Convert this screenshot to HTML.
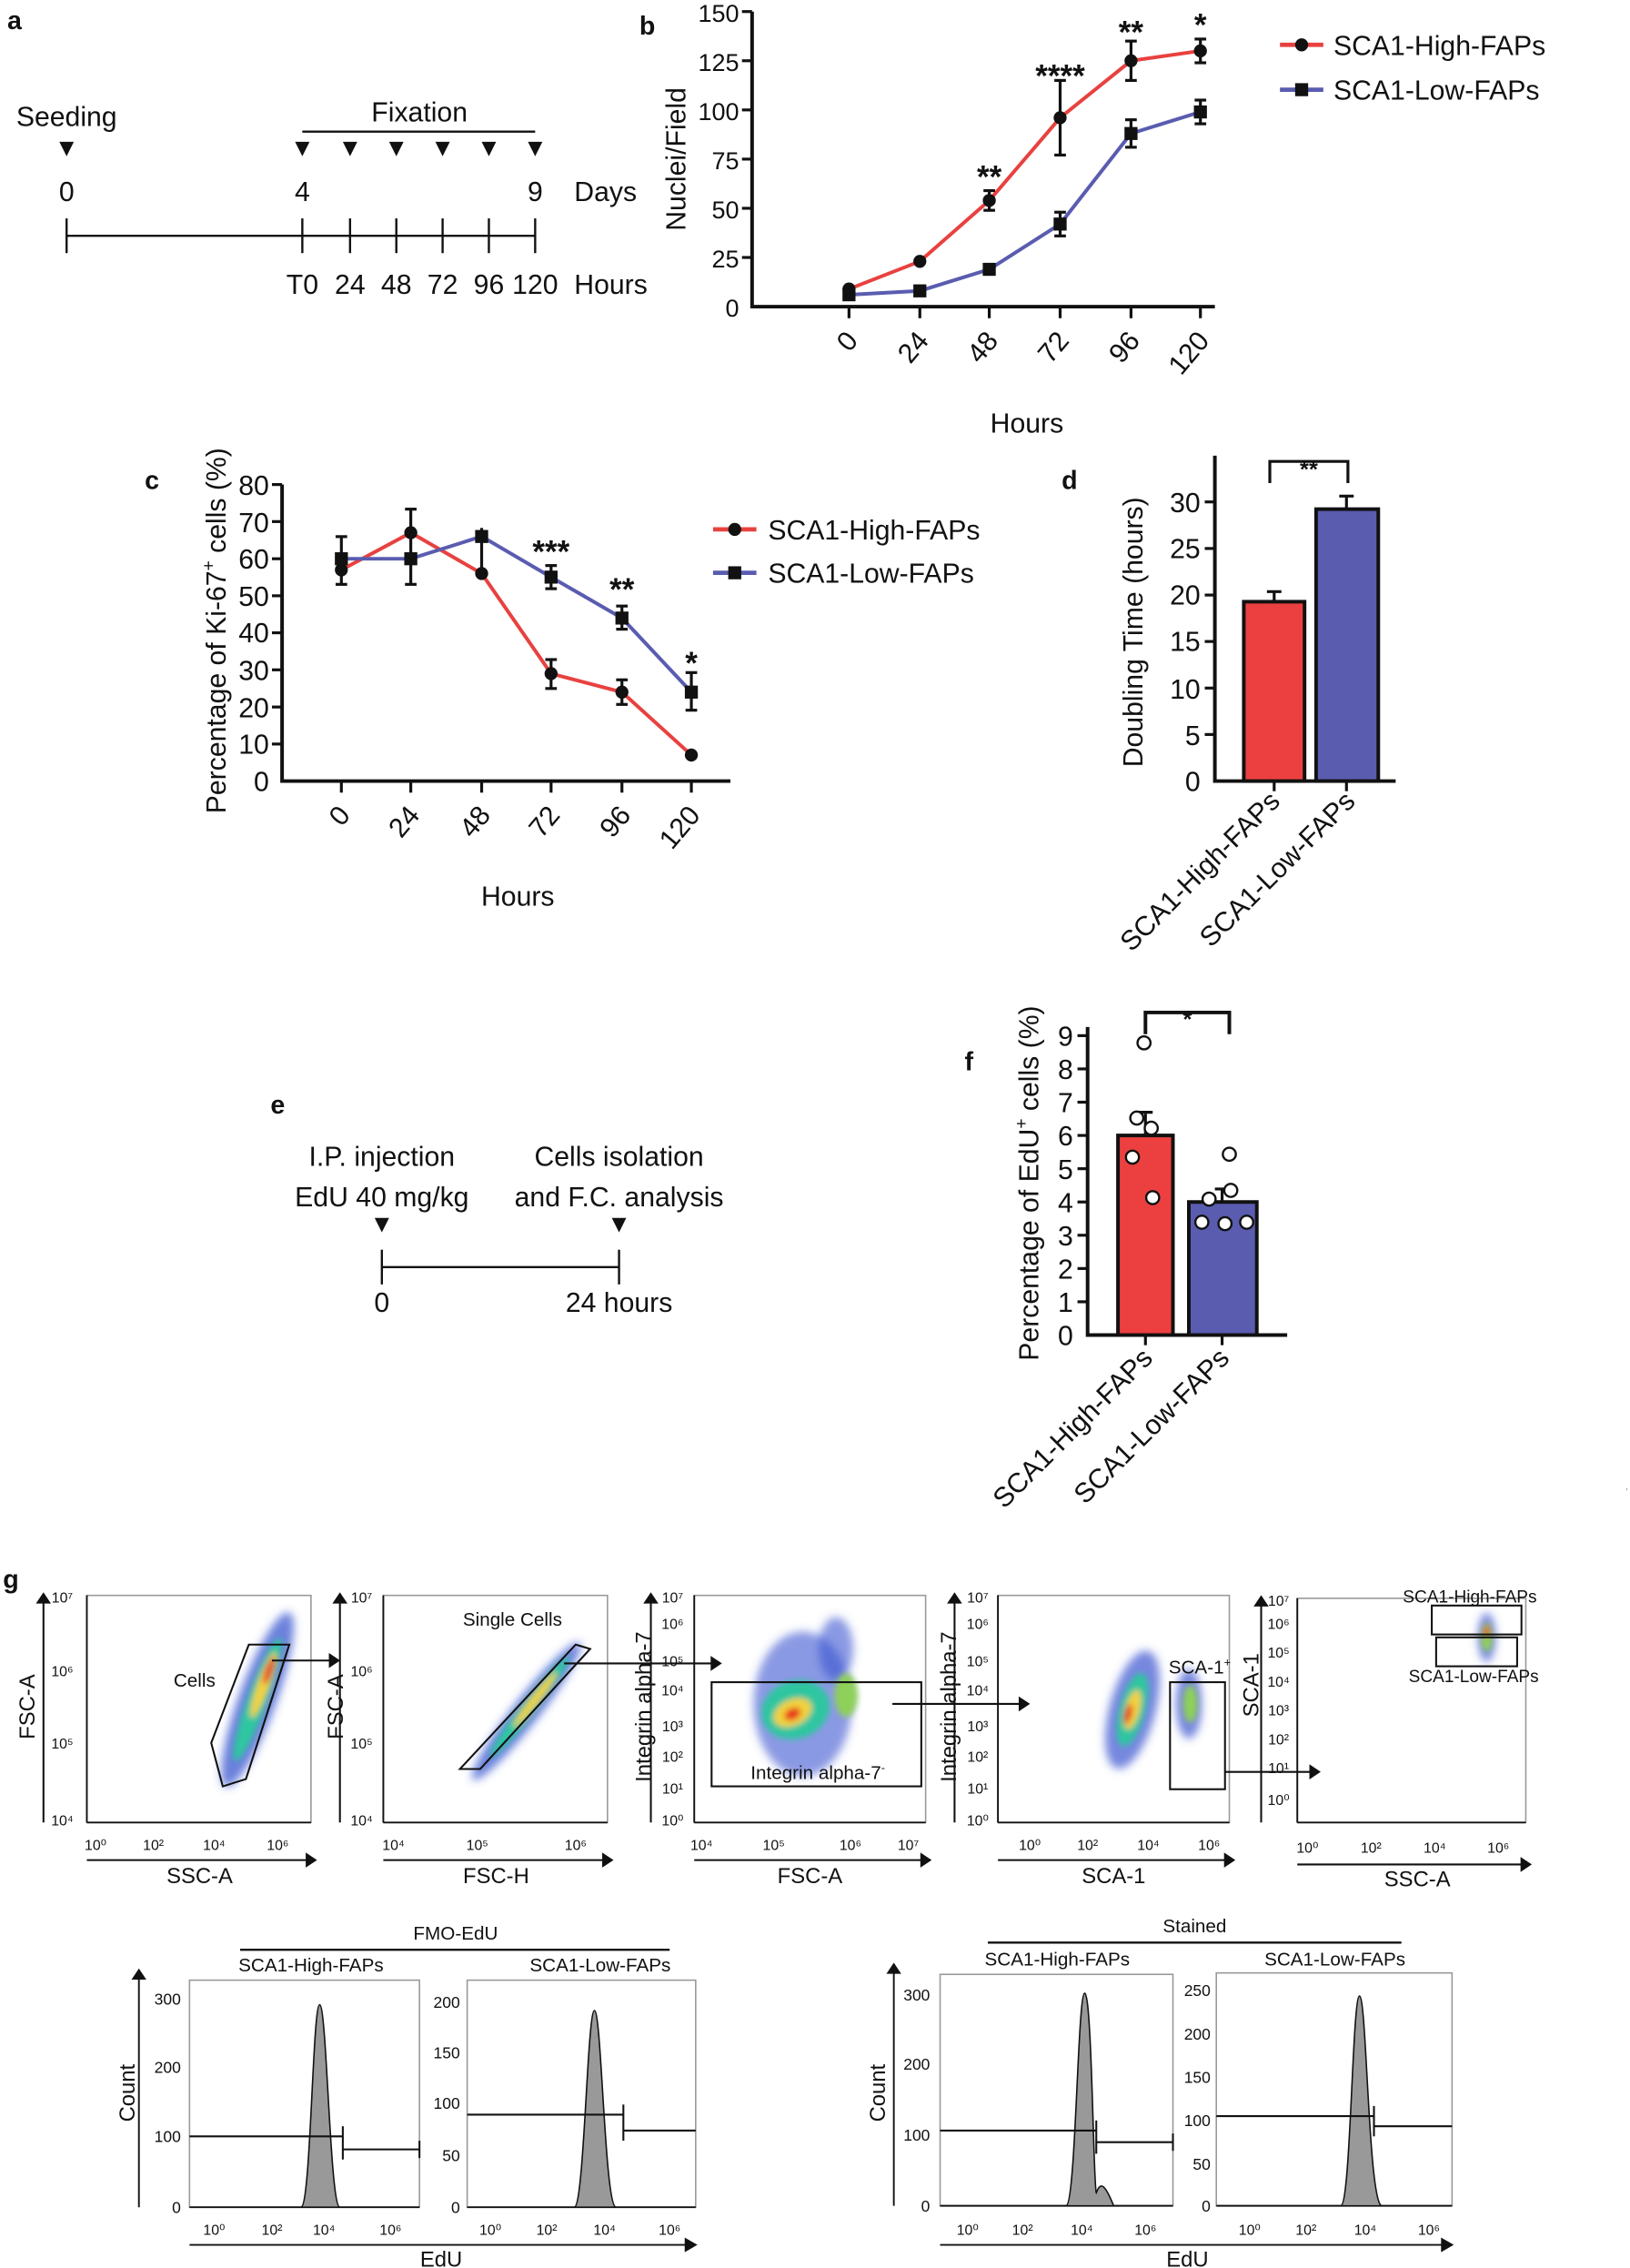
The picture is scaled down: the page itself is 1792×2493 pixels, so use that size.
<!DOCTYPE html>
<html><head><meta charset="utf-8"><style>
html,body{margin:0;padding:0;background:#fff}
svg{display:block}
text{font-family:"Liberation Sans",sans-serif;fill:#111}
</style></head><body>
<svg width="1792" height="2493" viewBox="0 0 1127 1568" xmlns="http://www.w3.org/2000/svg">
<defs>
<filter id="bl" x="-50%" y="-50%" width="200%" height="200%"><feGaussianBlur stdDeviation="3"/></filter>
<filter id="bl2" x="-50%" y="-50%" width="200%" height="200%"><feGaussianBlur stdDeviation="2"/></filter>
</defs>

<!-- Panel a -->
<g font-size="19">
<text x="5" y="20" font-weight="bold" font-size="18">a</text>
<text x="46" y="87" text-anchor="middle">Seeding</text>
<text x="290" y="84" text-anchor="middle">Fixation</text>
<line x1="209" y1="91" x2="370" y2="91" stroke="#111" stroke-width="1.5"/>
<g fill="#111">
<polygon points="41,98 51,98 46,108"/>
<polygon points="204,98 214,98 209,108"/><polygon points="237,98 247,98 242,108"/><polygon points="269,98 279,98 274,108"/><polygon points="301,98 311,98 306,108"/><polygon points="333,98 343,98 338,108"/><polygon points="365,98 375,98 370,108"/>
</g>
<text x="46" y="139" text-anchor="middle">0</text><text x="209" y="139" text-anchor="middle">4</text><text x="370" y="139" text-anchor="middle">9</text><text x="397" y="139">Days</text>
<line x1="46" y1="163" x2="370" y2="163" stroke="#111" stroke-width="1.5"/>
<g stroke="#111" stroke-width="1.5"><line x1="46" y1="151" x2="46" y2="175"/><line x1="209" y1="151" x2="209" y2="175"/><line x1="242" y1="151" x2="242" y2="175"/><line x1="274" y1="151" x2="274" y2="175"/><line x1="306" y1="151" x2="306" y2="175"/><line x1="338" y1="151" x2="338" y2="175"/><line x1="370" y1="151" x2="370" y2="175"/></g>
<text x="209" y="203" text-anchor="middle">T0</text><text x="242" y="203" text-anchor="middle">24</text><text x="274" y="203" text-anchor="middle">48</text><text x="306" y="203" text-anchor="middle">72</text><text x="338" y="203" text-anchor="middle">96</text><text x="370" y="203" text-anchor="middle">120</text><text x="397" y="203">Hours</text>
</g>

<!-- Panel b -->
<g font-size="19">
<text x="442" y="24" font-weight="bold" font-size="18">b</text>
<polyline points="520,8 520,212 840,212" fill="none" stroke="#111" stroke-width="2.5"/>
<g stroke="#111" stroke-width="2"><line x1="513" y1="8" x2="520" y2="8"/><line x1="513" y1="42" x2="520" y2="42"/><line x1="513" y1="76" x2="520" y2="76"/><line x1="513" y1="110" x2="520" y2="110"/><line x1="513" y1="144" x2="520" y2="144"/><line x1="513" y1="178" x2="520" y2="178"/>
<line x1="587" y1="212" x2="587" y2="220"/><line x1="636" y1="212" x2="636" y2="220"/><line x1="684" y1="212" x2="684" y2="220"/><line x1="733" y1="212" x2="733" y2="220"/><line x1="782" y1="212" x2="782" y2="220"/><line x1="830" y1="212" x2="830" y2="220"/></g>
<g text-anchor="end"><g font-size="17"><text x="511" y="15">150</text><text x="511" y="49">125</text><text x="511" y="83">100</text><text x="511" y="117">75</text><text x="511" y="151">50</text><text x="511" y="185">25</text><text x="511" y="219">0</text></g>
<text transform="translate(594,236) rotate(-50)">0</text><text transform="translate(643,236) rotate(-50)">24</text><text transform="translate(691,236) rotate(-50)">48</text><text transform="translate(740,236) rotate(-50)">72</text><text transform="translate(789,236) rotate(-50)">96</text><text transform="translate(837,236) rotate(-50)">120</text></g>
<text x="710" y="299" text-anchor="middle">Hours</text>
<text transform="translate(474,110) rotate(-90)" text-anchor="middle">Nuclei/Field</text>
<polyline points="587,199.8 636,180.7 684,138.6 733,81.4 782,42 830,35.2" fill="none" stroke="#e8413f" stroke-width="2.5"/>
<polyline points="587,203.8 636,201.1 684,186.2 733,154.9 782,92.3 830,77.4" fill="none" stroke="#5a5cb0" stroke-width="2.5"/>
<g stroke="#111" stroke-width="2">
<line x1="587" y1="197" x2="587" y2="202.5"/><line x1="636" y1="176.6" x2="636" y2="184.8"/><line x1="684" y1="131.8" x2="684" y2="145.4"/><line x1="733" y1="55.6" x2="733" y2="107.2"/><line x1="782" y1="28.4" x2="782" y2="55.6"/><line x1="830" y1="27" x2="830" y2="43.4"/>
<line x1="733" y1="146.7" x2="733" y2="163.1"/><line x1="782" y1="82.8" x2="782" y2="101.8"/><line x1="830" y1="69.2" x2="830" y2="85.6"/>
<line x1="729" y1="55.6" x2="737" y2="55.6"/><line x1="729" y1="107.2" x2="737" y2="107.2"/><line x1="778" y1="28.4" x2="786" y2="28.4"/><line x1="778" y1="55.6" x2="786" y2="55.6"/><line x1="826" y1="27" x2="834" y2="27"/><line x1="826" y1="43.4" x2="834" y2="43.4"/><line x1="680" y1="131.8" x2="688" y2="131.8"/><line x1="680" y1="145.4" x2="688" y2="145.4"/>
<line x1="778" y1="82.8" x2="786" y2="82.8"/><line x1="778" y1="101.8" x2="786" y2="101.8"/><line x1="826" y1="69.2" x2="834" y2="69.2"/><line x1="826" y1="85.6" x2="834" y2="85.6"/><line x1="729" y1="146.7" x2="737" y2="146.7"/><line x1="729" y1="163.1" x2="737" y2="163.1"/>
</g>
<g fill="#111"><circle cx="587" cy="199.8" r="4.5"/><circle cx="636" cy="180.7" r="4.5"/><circle cx="684" cy="138.6" r="4.5"/><circle cx="733" cy="81.4" r="4.5"/><circle cx="782" cy="42" r="4.5"/><circle cx="830" cy="35.2" r="4.5"/>
<rect x="582.5" y="199.3" width="9" height="9"/><rect x="631.5" y="196.6" width="9" height="9"/><rect x="679.5" y="181.7" width="9" height="9"/><rect x="728.5" y="150.4" width="9" height="9"/><rect x="777.5" y="87.8" width="9" height="9"/><rect x="825.5" y="72.9" width="9" height="9"/></g>
<g font-size="22" font-weight="bold" text-anchor="middle"><text x="684" y="130">**</text><text x="733" y="60">****</text><text x="782" y="30">**</text><text x="830" y="25">*</text></g>
<line x1="885" y1="31" x2="915" y2="31" stroke="#e8413f" stroke-width="3"/><circle cx="900" cy="31" r="4.5" fill="#111"/><text x="922" y="38">SCA1-High-FAPs</text>
<line x1="885" y1="62" x2="915" y2="62" stroke="#5a5cb0" stroke-width="3"/><rect x="895.5" y="57.5" width="9" height="9" fill="#111"/><text x="922" y="69">SCA1-Low-FAPs</text>
</g>

<!-- Panel c -->
<g font-size="19">
<text x="100" y="338" font-weight="bold" font-size="18">c</text>
<polyline points="195,335 195,540 505,540" fill="none" stroke="#111" stroke-width="2.5"/>
<g stroke="#111" stroke-width="2"><line x1="188" y1="335" x2="195" y2="335"/><line x1="188" y1="360.6" x2="195" y2="360.6"/><line x1="188" y1="386.3" x2="195" y2="386.3"/><line x1="188" y1="411.9" x2="195" y2="411.9"/><line x1="188" y1="437.5" x2="195" y2="437.5"/><line x1="188" y1="463.1" x2="195" y2="463.1"/><line x1="188" y1="488.8" x2="195" y2="488.8"/><line x1="188" y1="514.4" x2="195" y2="514.4"/>
<line x1="236" y1="540" x2="236" y2="548"/><line x1="284" y1="540" x2="284" y2="548"/><line x1="333" y1="540" x2="333" y2="548"/><line x1="381" y1="540" x2="381" y2="548"/><line x1="430" y1="540" x2="430" y2="548"/><line x1="478" y1="540" x2="478" y2="548"/></g>
<g text-anchor="end"><text x="186" y="342">80</text><text x="186" y="368">70</text><text x="186" y="393">60</text><text x="186" y="419">50</text><text x="186" y="444">40</text><text x="186" y="470">30</text><text x="186" y="496">20</text><text x="186" y="521">10</text><text x="186" y="547">0</text>
<text transform="translate(243,564) rotate(-50)">0</text><text transform="translate(291,564) rotate(-50)">24</text><text transform="translate(340,564) rotate(-50)">48</text><text transform="translate(388,564) rotate(-50)">72</text><text transform="translate(437,564) rotate(-50)">96</text><text transform="translate(485,564) rotate(-50)">120</text></g>
<text x="358" y="626" text-anchor="middle">Hours</text>
<text transform="translate(156,436) rotate(-90)" text-anchor="middle">Percentage of Ki-67<tspan font-size="12" dy="-8">+</tspan><tspan dy="8"> cells (%)</tspan></text>
<polyline points="236,394 284,368.3 333,396.5 381,465.7 430,478.5 478,522" fill="none" stroke="#e8413f" stroke-width="2.5"/>
<polyline points="236,386.3 284,386.3 333,370.9 381,399 430,427.3 478,478.5" fill="none" stroke="#5a5cb0" stroke-width="2.5"/>
<g stroke="#111" stroke-width="2">
<line x1="236" y1="371" x2="236" y2="404"/><line x1="232" y1="371" x2="240" y2="371"/><line x1="232" y1="404" x2="240" y2="404"/>
<line x1="284" y1="352" x2="284" y2="404"/><line x1="280" y1="352" x2="288" y2="352"/><line x1="280" y1="404" x2="288" y2="404"/>
<line x1="333" y1="365" x2="333" y2="401"/>
<line x1="381" y1="456" x2="381" y2="476"/><line x1="377" y1="456" x2="385" y2="456"/><line x1="377" y1="476" x2="385" y2="476"/>
<line x1="381" y1="391" x2="381" y2="407"/><line x1="377" y1="391" x2="385" y2="391"/><line x1="377" y1="407" x2="385" y2="407"/>
<line x1="430" y1="470" x2="430" y2="487"/><line x1="426" y1="470" x2="434" y2="470"/><line x1="426" y1="487" x2="434" y2="487"/>
<line x1="430" y1="419" x2="430" y2="435"/><line x1="426" y1="419" x2="434" y2="419"/><line x1="426" y1="435" x2="434" y2="435"/>
<line x1="478" y1="465" x2="478" y2="491"/><line x1="474" y1="465" x2="482" y2="465"/><line x1="474" y1="491" x2="482" y2="491"/></g>
<g fill="#111"><circle cx="236" cy="394" r="4.5"/><circle cx="284" cy="368.3" r="4.5"/><circle cx="333" cy="396.5" r="4.5"/><circle cx="381" cy="465.7" r="4.5"/><circle cx="430" cy="478.5" r="4.5"/><circle cx="478" cy="522" r="4.5"/>
<rect x="231.5" y="381.8" width="9" height="9"/><rect x="279.5" y="381.8" width="9" height="9"/><rect x="328.5" y="366.4" width="9" height="9"/><rect x="376.5" y="394.5" width="9" height="9"/><rect x="425.5" y="422.8" width="9" height="9"/><rect x="473.5" y="474" width="9" height="9"/></g>
<g font-size="22" font-weight="bold" text-anchor="middle"><text x="381" y="389">***</text><text x="430" y="415">**</text><text x="478" y="466">*</text></g>
<line x1="493" y1="366" x2="523" y2="366" stroke="#e8413f" stroke-width="3"/><circle cx="508" cy="366" r="4.5" fill="#111"/><text x="531" y="373">SCA1-High-FAPs</text>
<line x1="493" y1="396" x2="523" y2="396" stroke="#5a5cb0" stroke-width="3"/><rect x="503.5" y="391.5" width="9" height="9" fill="#111"/><text x="531" y="403">SCA1-Low-FAPs</text>
</g>

<!-- Panel d -->
<g font-size="19">
<text x="734" y="338" font-weight="bold" font-size="18">d</text>
<polyline points="840,315 840,540 965,540" fill="none" stroke="#111" stroke-width="2.5"/>
<g stroke="#111" stroke-width="2"><line x1="833" y1="347" x2="840" y2="347"/><line x1="833" y1="379.2" x2="840" y2="379.2"/><line x1="833" y1="411.4" x2="840" y2="411.4"/><line x1="833" y1="443.5" x2="840" y2="443.5"/><line x1="833" y1="475.7" x2="840" y2="475.7"/><line x1="833" y1="507.8" x2="840" y2="507.8"/><line x1="881" y1="540" x2="881" y2="547"/><line x1="931" y1="540" x2="931" y2="547"/></g>
<g text-anchor="end"><text x="830" y="354">30</text><text x="830" y="386">25</text><text x="830" y="418">20</text><text x="830" y="450">15</text><text x="830" y="483">10</text><text x="830" y="515">5</text><text x="830" y="547">0</text>
<text transform="translate(886,555) rotate(-45)">SCA1-High-FAPs</text><text transform="translate(938,555) rotate(-45)">SCA1-Low-FAPs</text></g>
<text transform="translate(790,437) rotate(-90)" text-anchor="middle">Doubling Time (hours)</text>
<rect x="860" y="416" width="42" height="124" fill="#ec4040" stroke="#111" stroke-width="2.5"/>
<rect x="910" y="352" width="43" height="188" fill="#5a5cb0" stroke="#111" stroke-width="2.5"/>
<g stroke="#111" stroke-width="2"><line x1="881" y1="409" x2="881" y2="416"/><line x1="876" y1="409" x2="886" y2="409"/><line x1="931" y1="343" x2="931" y2="352"/><line x1="926" y1="343" x2="936" y2="343"/></g>
<polyline points="878,334 878,319 932,319 932,334" fill="none" stroke="#111" stroke-width="2"/>
<text x="905" y="330" text-anchor="middle" font-size="16" font-weight="bold">**</text>
</g>

<!-- Panel e -->
<g font-size="19">
<text x="187" y="770" font-weight="bold" font-size="18">e</text>
<text x="264" y="806" text-anchor="middle">I.P. injection</text><text x="264" y="834" text-anchor="middle">EdU 40 mg/kg</text>
<text x="428" y="806" text-anchor="middle">Cells isolation</text><text x="428" y="834" text-anchor="middle">and F.C. analysis</text>
<polygon points="259,842 269,842 264,852" fill="#111"/><polygon points="423,842 433,842 428,852" fill="#111"/>
<g stroke="#111" stroke-width="1.5"><line x1="264" y1="876" x2="428" y2="876"/><line x1="264" y1="864" x2="264" y2="888"/><line x1="428" y1="864" x2="428" y2="888"/></g>
<text x="264" y="907" text-anchor="middle">0</text><text x="428" y="907" text-anchor="middle">24 hours</text>
</g>

<!-- Panel f -->
<g font-size="19">
<text x="667" y="740" font-weight="bold" font-size="18">f</text>
<polyline points="752,710 752,923 890,923" fill="none" stroke="#111" stroke-width="2.5"/>
<g stroke="#111" stroke-width="2"><line x1="745" y1="716" x2="752" y2="716"/><line x1="745" y1="739" x2="752" y2="739"/><line x1="745" y1="762" x2="752" y2="762"/><line x1="745" y1="785" x2="752" y2="785"/><line x1="745" y1="808" x2="752" y2="808"/><line x1="745" y1="831" x2="752" y2="831"/><line x1="745" y1="854" x2="752" y2="854"/><line x1="745" y1="877" x2="752" y2="877"/><line x1="745" y1="900" x2="752" y2="900"/><line x1="792" y1="923" x2="792" y2="930"/><line x1="845" y1="923" x2="845" y2="930"/></g>
<g text-anchor="end"><text x="742" y="723">9</text><text x="742" y="746">8</text><text x="742" y="769">7</text><text x="742" y="792">6</text><text x="742" y="815">5</text><text x="742" y="838">4</text><text x="742" y="861">3</text><text x="742" y="884">2</text><text x="742" y="907">1</text><text x="742" y="930">0</text>
<text transform="translate(798,940) rotate(-45)">SCA1-High-FAPs</text><text transform="translate(851,940) rotate(-45)">SCA1-Low-FAPs</text></g>
<text transform="translate(718,818) rotate(-90)" text-anchor="middle">Percentage of EdU<tspan font-size="12" dy="-8">+</tspan><tspan dy="8"> cells (%)</tspan></text>
<rect x="773" y="785" width="38" height="138" fill="#ec4040" stroke="#111" stroke-width="2.5"/>
<rect x="822" y="831" width="47" height="92" fill="#5a5cb0" stroke="#111" stroke-width="2.5"/>
<g stroke="#111" stroke-width="2"><line x1="792" y1="769" x2="792" y2="785"/><line x1="787" y1="769" x2="797" y2="769"/><line x1="845" y1="822" x2="845" y2="831"/><line x1="840" y1="822" x2="850" y2="822"/></g>
<g fill="#fff" stroke="#111" stroke-width="1.5"><circle cx="791" cy="721" r="4.5"/><circle cx="786" cy="773" r="4.5"/><circle cx="796" cy="780" r="4.5"/><circle cx="783" cy="800" r="4.5"/><circle cx="797" cy="828" r="4.5"/>
<circle cx="850" cy="798" r="4.5"/><circle cx="836" cy="829" r="4.5"/><circle cx="851" cy="823" r="4.5"/><circle cx="862" cy="845" r="4.5"/><circle cx="831" cy="845" r="4.5"/><circle cx="847" cy="846" r="4.5"/></g>
<polyline points="792,715 792,700 850,700 850,715" fill="none" stroke="#111" stroke-width="2.5"/>
<text x="821" y="710" text-anchor="middle" font-size="16" font-weight="bold">*</text>
<text x="1124" y="1030" font-size="6">.</text>
</g>

<!-- Panel g scatter -->
<g font-size="13">
<text x="2" y="1098" font-weight="bold" font-size="18">g</text>
<g fill="none" stroke="#999" stroke-width="1"><rect x="60" y="1103" width="155" height="157"/><rect x="265" y="1103" width="155" height="157"/><rect x="480" y="1103" width="160" height="157"/><rect x="690" y="1103" width="160" height="157"/><rect x="897" y="1105" width="158" height="155"/></g>
<g stroke="#111" stroke-width="1.2"><line x1="60" y1="1103" x2="60" y2="1260"/><line x1="60" y1="1260" x2="215" y2="1260"/><line x1="265" y1="1103" x2="265" y2="1260"/><line x1="265" y1="1260" x2="420" y2="1260"/><line x1="480" y1="1103" x2="480" y2="1260"/><line x1="480" y1="1260" x2="640" y2="1260"/><line x1="690" y1="1103" x2="690" y2="1260"/><line x1="690" y1="1260" x2="850" y2="1260"/><line x1="897" y1="1105" x2="897" y2="1260"/><line x1="897" y1="1260" x2="1055" y2="1260"/></g>
<g filter="url(#bl)">
<ellipse cx="178" cy="1175" rx="13" ry="64" fill="#3a55d0" opacity="0.75" transform="rotate(20 178 1175)"/>
<ellipse cx="364" cy="1183" rx="9" ry="60" fill="#3a55d0" opacity="0.75" transform="rotate(38 364 1183)"/>
<ellipse cx="555" cy="1178" rx="34" ry="50" fill="#3a55d0" opacity="0.6"/>
<ellipse cx="578" cy="1140" rx="12" ry="22" fill="#3a55d0" opacity="0.6"/>
<ellipse cx="783" cy="1182" rx="16" ry="42" fill="#3a55d0" opacity="0.7" transform="rotate(15 783 1182)"/>
<ellipse cx="822" cy="1178" rx="9" ry="24" fill="#3a55d0" opacity="0.7"/>
<ellipse cx="1028" cy="1132" rx="6" ry="17" fill="#3a55d0" opacity="0.7"/>
</g>
<g filter="url(#bl2)">
<ellipse cx="178" cy="1175" rx="7" ry="45" fill="#2ec6a0" transform="rotate(20 178 1175)"/>
<ellipse cx="366" cy="1180" rx="5" ry="44" fill="#2ec6a0" transform="rotate(38 366 1180)"/>
<ellipse cx="550" cy="1182" rx="24" ry="20" fill="#2ec6a0" transform="rotate(-20 550 1182)"/>
<ellipse cx="585" cy="1172" rx="8" ry="15" fill="#8fd05a"/>
<ellipse cx="783" cy="1182" rx="9" ry="26" fill="#2ec6a0" transform="rotate(15 783 1182)"/>
<ellipse cx="823" cy="1178" rx="5" ry="13" fill="#8fd05a"/>
<ellipse cx="1028" cy="1132" rx="4" ry="10" fill="#8fd05a"/>
<ellipse cx="182" cy="1165" rx="4" ry="24" fill="#f2d23a" transform="rotate(20 182 1165)"/>
<ellipse cx="370" cy="1175" rx="3" ry="24" fill="#f2d23a" transform="rotate(38 370 1175)"/>
<ellipse cx="548" cy="1184" rx="14" ry="9" fill="#f2d23a" transform="rotate(-25 548 1184)"/>
<ellipse cx="783" cy="1182" rx="5" ry="14" fill="#f2d23a" transform="rotate(15 783 1182)"/>
<ellipse cx="186" cy="1155" rx="2.5" ry="10" fill="#e8321e" transform="rotate(20 186 1155)"/>
<ellipse cx="548" cy="1185" rx="6" ry="4" fill="#e8321e" transform="rotate(-25 548 1185)"/>
<ellipse cx="780" cy="1185" rx="2.5" ry="7" fill="#e8321e" transform="rotate(15 780 1185)"/>
<ellipse cx="1028" cy="1128" rx="2" ry="4" fill="#e8321e"/>
</g>
<g fill="none" stroke="#111" stroke-width="1.3">
<polygon points="172,1137 200,1137 170,1230 154,1235 146,1205"/>
<polygon points="318,1223 332,1223 408,1140 398,1137"/>
<rect x="492" y="1163" width="145" height="72"/>
<rect x="809" y="1163" width="38" height="74"/>
<rect x="990" y="1110" width="62" height="20"/><rect x="993" y="1132" width="56" height="20"/>
</g>
<g stroke="#111" stroke-width="1.3" fill="#111">
<line x1="188" y1="1148" x2="228" y2="1148"/><polygon points="228,1144 234,1148 228,1152"/>
<line x1="390" y1="1150" x2="492" y2="1150"/><polygon points="492,1146 498,1150 492,1154"/>
<line x1="617" y1="1178" x2="705" y2="1178"/><polygon points="705,1174 711,1178 705,1182"/>
<line x1="847" y1="1225" x2="906" y2="1225"/><polygon points="906,1221 912,1225 906,1229"/>
<line x1="60" y1="1286" x2="212" y2="1286"/><polygon points="212,1282 218,1286 212,1290"/>
<line x1="265" y1="1286" x2="417" y2="1286"/><polygon points="417,1282 423,1286 417,1290"/>
<line x1="480" y1="1286" x2="637" y2="1286"/><polygon points="637,1282 643,1286 637,1290"/>
<line x1="690" y1="1286" x2="847" y2="1286"/><polygon points="847,1282 853,1286 847,1290"/>
<line x1="897" y1="1289" x2="1052" y2="1289"/><polygon points="1052,1285 1058,1289 1052,1293"/>
<line x1="30" y1="1260" x2="30" y2="1108"/><polygon points="26,1108 30,1102 34,1108"/>
<line x1="235" y1="1260" x2="235" y2="1108"/><polygon points="231,1108 235,1102 239,1108"/>
<line x1="450" y1="1260" x2="450" y2="1108"/><polygon points="446,1108 450,1102 454,1108"/>
<line x1="660" y1="1260" x2="660" y2="1108"/><polygon points="656,1108 660,1102 664,1108"/>
<line x1="872" y1="1260" x2="872" y2="1110"/><polygon points="868,1110 872,1104 876,1110"/>
</g>
<g font-size="13">
<text x="120" y="1166">Cells</text><text x="320" y="1124">Single Cells</text><text x="519" y="1230">Integrin alpha-7<tspan font-size="8" dy="-5">-</tspan></text><text x="808" y="1157">SCA-1<tspan font-size="8" dy="-5">+</tspan></text>
<text x="970" y="1108" font-size="12">SCA1-High-FAPs</text><text x="974" y="1163" font-size="12">SCA1-Low-FAPs</text>
<text x="138" y="1302" text-anchor="middle" font-size="15">SSC-A</text><text x="343" y="1302" text-anchor="middle" font-size="15">FSC-H</text><text x="560" y="1302" text-anchor="middle" font-size="15">FSC-A</text><text x="770" y="1302" text-anchor="middle" font-size="15">SCA-1</text><text x="980" y="1304" text-anchor="middle" font-size="15">SSC-A</text>
<text transform="translate(24,1180) rotate(-90)" text-anchor="middle" font-size="15">FSC-A</text><text transform="translate(237,1180) rotate(-90)" text-anchor="middle" font-size="15">FSC-A</text>
<text transform="translate(450,1180) rotate(-90)" text-anchor="middle" font-size="15">Integrin alpha-7</text><text transform="translate(661,1180) rotate(-90)" text-anchor="middle" font-size="15">Integrin alpha-7</text><text transform="translate(870,1165) rotate(-90)" text-anchor="middle" font-size="15">SCA-1</text>
</g>
<g font-size="10" text-anchor="middle">
<text x="43" y="1108">10⁷</text><text x="43" y="1159">10⁶</text><text x="43" y="1209">10⁵</text><text x="43" y="1262">10⁴</text>
<text x="66" y="1279">10⁰</text><text x="106" y="1279">10²</text><text x="148" y="1279">10⁴</text><text x="192" y="1279">10⁶</text>
<text x="250" y="1108">10⁷</text><text x="250" y="1159">10⁶</text><text x="250" y="1209">10⁵</text><text x="250" y="1262">10⁴</text>
<text x="272" y="1279">10⁴</text><text x="330" y="1279">10⁵</text><text x="398" y="1279">10⁶</text>
<text x="465" y="1108">10⁷</text><text x="465" y="1126">10⁶</text><text x="465" y="1152">10⁵</text><text x="465" y="1172">10⁴</text><text x="465" y="1197">10³</text><text x="465" y="1218">10²</text><text x="465" y="1240">10¹</text><text x="465" y="1262">10⁰</text>
<text x="485" y="1279">10⁴</text><text x="535" y="1279">10⁵</text><text x="588" y="1279">10⁶</text><text x="628" y="1279">10⁷</text>
<text x="676" y="1108">10⁷</text><text x="676" y="1126">10⁶</text><text x="676" y="1152">10⁵</text><text x="676" y="1172">10⁴</text><text x="676" y="1197">10³</text><text x="676" y="1218">10²</text><text x="676" y="1240">10¹</text><text x="676" y="1262">10⁰</text>
<text x="712" y="1279">10⁰</text><text x="752" y="1279">10²</text><text x="794" y="1279">10⁴</text><text x="836" y="1279">10⁶</text>
<text x="884" y="1110">10⁷</text><text x="884" y="1126">10⁶</text><text x="884" y="1146">10⁵</text><text x="884" y="1166">10⁴</text><text x="884" y="1186">10³</text><text x="884" y="1206">10²</text><text x="884" y="1226">10¹</text><text x="884" y="1248">10⁰</text>
<text x="904" y="1281">10⁰</text><text x="948" y="1281">10²</text><text x="992" y="1281">10⁴</text><text x="1036" y="1281">10⁶</text>
</g>
</g>

<!-- Histograms -->
<g font-size="13">
<text x="315" y="1341" text-anchor="middle">FMO-EdU</text>
<line x1="166" y1="1348" x2="463" y2="1348" stroke="#111" stroke-width="1.5"/>
<text x="215" y="1363" text-anchor="middle">SCA1-High-FAPs</text><text x="415" y="1363" text-anchor="middle">SCA1-Low-FAPs</text>
<text x="826" y="1336" text-anchor="middle">Stained</text>
<line x1="683" y1="1343" x2="969" y2="1343" stroke="#111" stroke-width="1.5"/>
<text x="731" y="1359" text-anchor="middle">SCA1-High-FAPs</text><text x="923" y="1359" text-anchor="middle">SCA1-Low-FAPs</text>

<g fill="none" stroke="#999" stroke-width="1"><rect x="131" y="1369" width="159" height="157"/><rect x="323" y="1369" width="158" height="157"/><rect x="650" y="1365" width="161" height="160"/><rect x="841" y="1364" width="163" height="161"/></g>
<g stroke="#111" stroke-width="1.2"><line x1="131" y1="1526" x2="290" y2="1526"/><line x1="323" y1="1526" x2="481" y2="1526"/><line x1="650" y1="1525" x2="811" y2="1525"/><line x1="841" y1="1525" x2="1004" y2="1525"/></g>
<g fill="#999" stroke="#111" stroke-width="1">
<path d="M208,1526 C215,1526 216,1386 221,1386 C226,1386 228,1526 235,1526 Z"/>
<path d="M397,1526 C404,1526 406,1390 411,1390 C416,1390 418,1526 426,1526 Z"/>
<path d="M737,1525 C744,1525 745,1378 750,1378 C755,1378 756,1512 758,1516 C761,1508 764,1510 770,1525 Z"/>
<path d="M927,1525 C934,1525 935,1380 940,1380 C945,1380 946,1518 955,1525 Z"/>
</g>
<g stroke="#111" stroke-width="1.3">
<line x1="131" y1="1477" x2="237" y2="1477"/><line x1="237" y1="1470" x2="237" y2="1493"/><line x1="237" y1="1486" x2="290" y2="1486"/><line x1="290" y1="1480" x2="290" y2="1492"/>
<line x1="323" y1="1462" x2="431" y2="1462"/><line x1="431" y1="1455" x2="431" y2="1480"/><line x1="431" y1="1473" x2="481" y2="1473"/>
<line x1="650" y1="1473" x2="758" y2="1473"/><line x1="758" y1="1466" x2="758" y2="1489"/><line x1="758" y1="1481" x2="811" y2="1481"/><line x1="811" y1="1475" x2="811" y2="1487"/>
<line x1="841" y1="1463" x2="950" y2="1463"/><line x1="950" y1="1456" x2="950" y2="1477"/><line x1="950" y1="1470" x2="1004" y2="1470"/>
</g>
<g stroke="#111" stroke-width="1.2" fill="#111">
<line x1="96" y1="1526" x2="96" y2="1368"/><polygon points="92,1368 96,1362 100,1368"/>
<line x1="618" y1="1525" x2="618" y2="1364"/><polygon points="614,1364 618,1358 622,1364"/>
<line x1="131" y1="1552" x2="474" y2="1552"/><polygon points="474,1548 481,1552 474,1556"/>
<line x1="650" y1="1552" x2="997" y2="1552"/><polygon points="997,1548 1004,1552 997,1556"/>
</g>
<g font-size="11" text-anchor="end">
<text x="125" y="1386">300</text><text x="125" y="1433">200</text><text x="125" y="1481">100</text><text x="125" y="1530">0</text>
<text x="318" y="1388">200</text><text x="318" y="1423">150</text><text x="318" y="1458">100</text><text x="318" y="1494">50</text><text x="318" y="1530">0</text>
<text x="643" y="1383">300</text><text x="643" y="1431">200</text><text x="643" y="1480">100</text><text x="643" y="1529">0</text>
<text x="837" y="1380">250</text><text x="837" y="1410">200</text><text x="837" y="1440">150</text><text x="837" y="1470">100</text><text x="837" y="1500">50</text><text x="837" y="1529">0</text>
</g>
<g font-size="10" text-anchor="middle">
<text x="148" y="1545">10⁰</text><text x="188" y="1545">10²</text><text x="224" y="1545">10⁴</text><text x="270" y="1545">10⁶</text>
<text x="339" y="1545">10⁰</text><text x="378" y="1545">10²</text><text x="418" y="1545">10⁴</text><text x="463" y="1545">10⁶</text>
<text x="669" y="1545">10⁰</text><text x="707" y="1545">10²</text><text x="748" y="1545">10⁴</text><text x="792" y="1545">10⁶</text>
<text x="864" y="1545">10⁰</text><text x="903" y="1545">10²</text><text x="944" y="1545">10⁴</text><text x="988" y="1545">10⁶</text>
</g>
<text x="305" y="1567" text-anchor="middle" font-size="15">EdU</text><text x="821" y="1567" text-anchor="middle" font-size="15">EdU</text>
<text transform="translate(93,1447) rotate(-90)" text-anchor="middle" font-size="15">Count</text><text transform="translate(612,1447) rotate(-90)" text-anchor="middle" font-size="15">Count</text>
</g>
</svg>
</body></html>
